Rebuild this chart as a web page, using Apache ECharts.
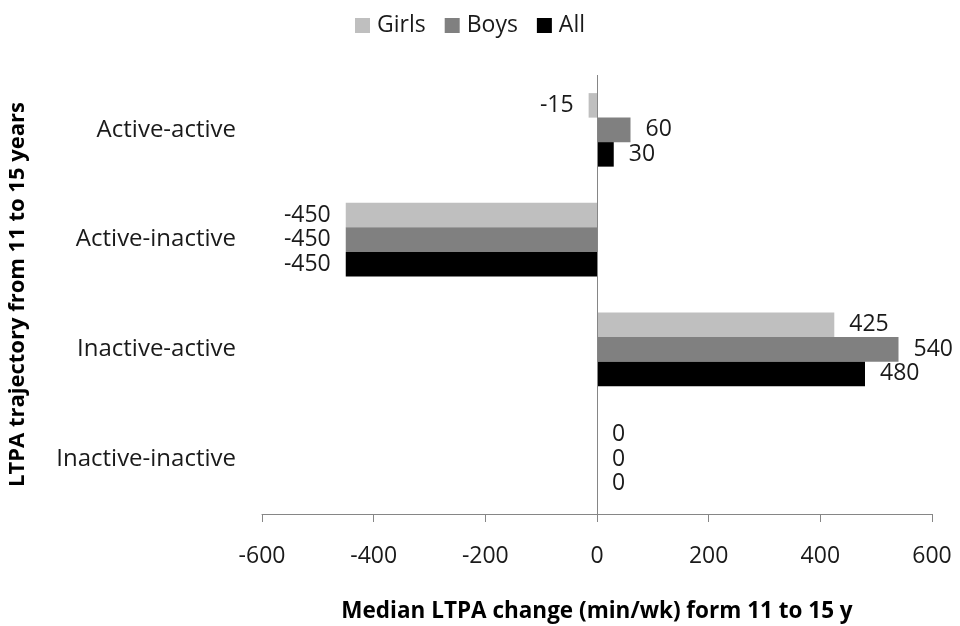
<!DOCTYPE html>
<html>
<head>
<meta charset="utf-8">
<script src="https://cdn.jsdelivr.net/npm/echarts@6/dist/echarts.min.js"></script>
<style>
html,body{margin:0;padding:0;background:#fff;}
#chart{width:960px;height:626px;}
</style>
</head>
<body>
<div id="chart"></div>
<script>
const categories = ['Active-active', 'Active-inactive', 'Inactive-active', 'Inactive-inactive'];
const seriesNames = ['Girls', 'Boys', 'All'];
const girls = [-15, -450, 425, 0];
const boys = [60, -450, 540, 0];
const all = [30, -450, 480, 0];
const xTicks = { min: -600, max: 600, interval: 200 };

const FONT = '"Open Sans", "Noto Sans", sans-serif';
const colors = ['#bfbfbf', '#808080', '#000000'];
const values = [girls, boys, all];

const chart = echarts.init(document.getElementById('chart'));

const series = seriesNames.map((name, i) => ({
  name: name,
  type: 'bar',
  barGap: '0%',
  barCategoryGap: '33%',
  itemStyle: { color: colors[i] },
  label: {
    show: true,
    fontFamily: FONT,
    fontSize: 23,
    color: '#1a1a1a',
    distance: 15
  },
  data: values[i].map(v => ({ value: v, label: { position: v < 0 ? 'left' : 'right' } })),
  markLine: i === 0 ? {
    silent: true,
    symbol: 'none',
    label: { show: false },
    lineStyle: { color: '#868686', type: 'solid', width: 1 },
    data: [{ xAxis: 0 }]
  } : undefined,
  z: 3
}));

chart.setOption({
  animation: false,
  backgroundColor: '#fff',
  legend: {
    top: 9,
    left: 350,
    icon: 'rect',
    itemWidth: 15,
    itemHeight: 15,
    itemGap: 19,
    textStyle: { fontFamily: FONT, fontSize: 23, color: '#1a1a1a', padding: [0, 0, 0, 2] },
    data: seriesNames
  },
  grid: { left: 262, right: 28, top: 75, bottom: 112, containLabel: false, outerBoundsMode: 'none' },
  xAxis: {
    type: 'value',
    min: xTicks.min,
    max: xTicks.max,
    interval: xTicks.interval,
    name: 'Median LTPA change (min/wk) form 11 to 15 y',
    nameLocation: 'middle',
    nameGap: 86,
    nameTextStyle: { fontFamily: FONT, fontSize: 22.5, fontWeight: 'bold', color: '#000' },
    axisLine: { show: true, lineStyle: { color: '#868686' } },
    axisTick: { show: true, length: 8, lineStyle: { color: '#868686' } },
    splitLine: { show: false },
    axisLabel: { fontFamily: FONT, fontSize: 23, color: '#1a1a1a', margin: 31 }
  },
  yAxis: {
    type: 'category',
    inverse: true,
    data: categories,
    name: 'LTPA trajectory from 11 to 15 years',
    nameLocation: 'middle',
    nameGap: 233,
    nameRotate: 90,
    nameTextStyle: { fontFamily: FONT, fontSize: 22, fontWeight: 'bold', color: '#000' },
    axisLine: { show: false, onZero: false },
    axisTick: { show: false },
    splitLine: { show: false },
    axisLabel: { fontFamily: FONT, fontSize: 24, color: '#1a1a1a', margin: 26 }
  },
  series: series
});
</script>
</body>
</html>
